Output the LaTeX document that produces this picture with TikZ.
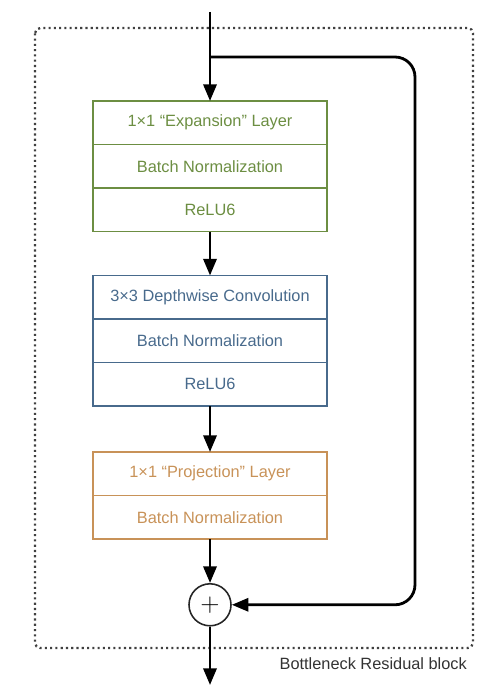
\documentclass[tikz,border=0pt]{standalone}
\usepackage{fontspec}
\setmainfont{Liberation Sans}
\usetikzlibrary{positioning, arrows.meta, calc}

\definecolor{expgreen}{RGB}{108,142,66}
\definecolor{dwblue}{RGB}{72,106,140}
\definecolor{projorange}{RGB}{200,146,88}

\begin{document}
\begin{tikzpicture}[
    >={Triangle[length=9.5pt,width=7.5pt]},
    node distance=0.88cm,
    % Styles for rows and connectors
    row/.style={rectangle, minimum width=4.68cm, minimum height=0.87cm, outer sep=0pt, align=center, line width=1.1pt, font=\fontsize{9.3}{11}\selectfont},
    greenrow/.style={row, draw=expgreen, text=expgreen},
    bluerow/.style={row, draw=dwblue, text=dwblue},
    orangerow/.style={row, draw=projorange, text=projorange},
    addnode/.style={draw=black!85, circle, line width=0.9pt, minimum size=0.84cm, inner sep=0pt},
    flow/.style={->, line width=1.6pt, draw=black},
    frame/.style={draw=black!75, line width=1.3pt, dash pattern=on 1.2pt off 1.8pt, rounded corners=3pt}
]

    \useasboundingbox (0,0) rectangle (10,-13.8);

    % Outer dotted block
    \coordinate (fnw) at (0.7,-0.56);
    \coordinate (fse) at (9.46,-12.96);
    \draw [frame] (fnw) rectangle (fse);
    \node (cap) [anchor=east, text=black!80, font=\fontsize{9.3}{11}\selectfont] at (9.46,-13.28) {Bottleneck Residual block};

    % Expansion stage
    \node (exp) [greenrow] at (4.2,-2.455) {1×1 “Expansion” Layer};
    \node (bn1) [greenrow, below=0pt of exp] {Batch Normalization};
    \node (relu1) [greenrow, below=0pt of bn1] {ReLU6};

    % Depthwise stage
    \node (dw) [bluerow, below=of relu1] {3×3 Depthwise Convolution};
    \node (bn2) [bluerow, below=0pt of dw] {Batch Normalization};
    \node (relu2) [bluerow, below=0pt of bn2] {ReLU6};

    % Projection stage
    \node (proj) [orangerow, below=0.92cm of relu2] {1×1 “Projection” Layer};
    \node (bn3) [orangerow, below=0pt of proj] {Batch Normalization};

    % Addition
    \node (add) [addnode, below=of bn3] {\fontsize{14}{14}\selectfont$+$};

    % In, out and shortcut points
    \coordinate (in) at (4.2,-0.24);
    \coordinate (split) at (4.2,-1.14);
    \coordinate (loopx) at (8.3,0);
    \coordinate (out) at (4.2,-13.7);

    % Arrows
    \draw [flow] (in) -- (exp);
    \draw [flow] (relu1) -- (dw);
    \draw [flow] (relu2) -- (proj);
    \draw [flow] (bn3) -- (add);
    \draw [flow] (add) -- (out);
    \draw [flow, rounded corners=0.4cm] (split) -- (split -| loopx) -- (add -| loopx) -- (add);

\end{tikzpicture}
\end{document}
